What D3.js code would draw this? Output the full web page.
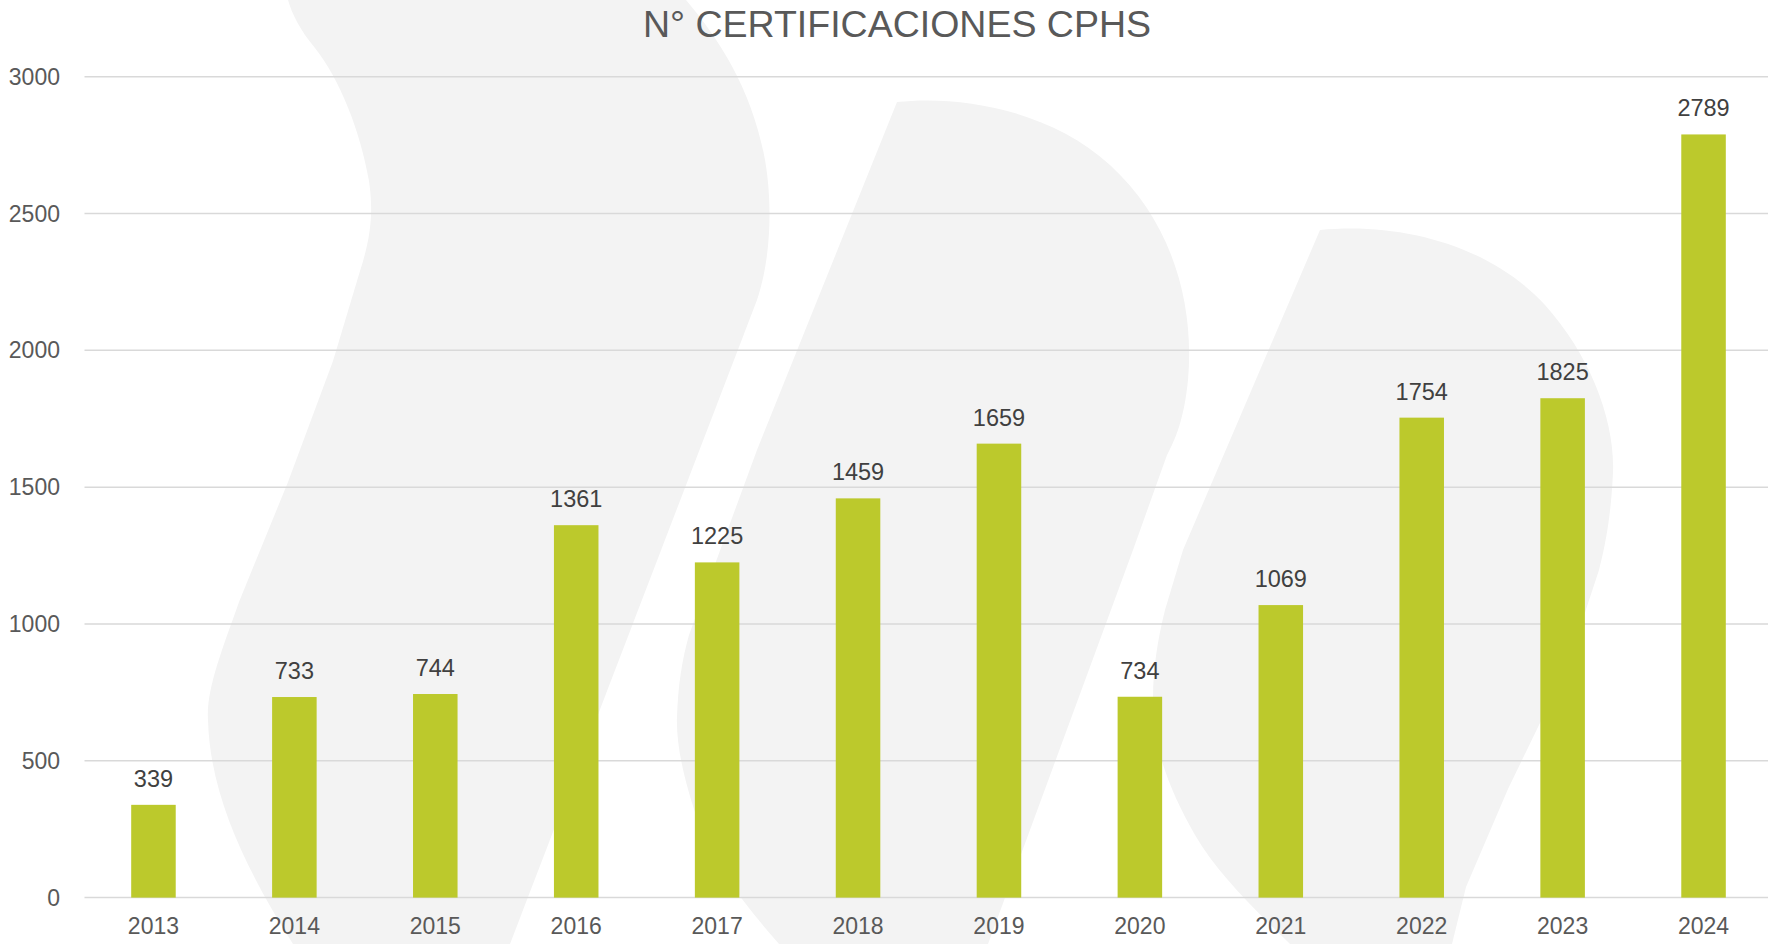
<!DOCTYPE html>
<html>
<head>
<meta charset="utf-8">
<script src="https://cdn.jsdelivr.net/npm/d3@7"></script>
<style>
  html, body { margin: 0; padding: 0; background: #fff; }
  svg { display: block; font-family: "Liberation Sans", Arial, sans-serif; }
</style>
</head>
<body>
<script>
// datos
var years = ["2013", "2014", "2015", "2016", "2017", "2018", "2019", "2020", "2021", "2022", "2023", "2024"];
var certificaciones = [339, 733, 744, 1361, 1225, 1459, 1659, 734, 1069, 1754, 1825, 2789];
var yTicks = [0, 500, 1000, 1500, 2000, 2500, 3000];
var titulo = "N° CERTIFICACIONES CPHS";

var width = 1768, height = 944;
// area del grafico
var plotLeft = 83, plotRight = 1774, plotTop = 76.7, plotBottom = 897.6;

var svg = d3.select("body").append("svg").attr("width", width).attr("height", height);

// marca de agua de fondo (logo)
var marca = [
  "M288,0 C292,14 300,30 315,48 C340,80 360,130 369,181 C374,215 370,240 360,271 L333,361 L288,482 L239,602 C222,650 206,690 208,720 C210,790 240,860 293,944 L510,944 L757,300 C772,255 772,200 765,160 C752,90 720,40 686,0 Z",
  "M897,102 C960,95 1050,110 1110,165 C1170,220 1195,300 1188,380 C1184,420 1175,440 1167,455 L1133,550 L988,944 L779,944 C740,900 712,860 698,821 C684,780 676,745 677,717 C678,685 682,660 689,635 L757,450 Z",
  "M1320,230 C1400,222 1490,245 1545,305 C1590,355 1615,420 1613,472 C1611,520 1604,550 1599,570 L1567,667 L1508,789 L1466,887 L1452,944 L1290,944 C1250,905 1215,870 1195,835 C1175,800 1160,765 1155,730 C1150,690 1155,650 1165,610 L1183,550 Z"
];
svg.selectAll(".marca").data(marca).enter().append("path")
    .attr("d", function (d) { return d; })
    .attr("fill", "#f3f3f3");

var x = d3.scaleBand().domain(years).range([plotLeft, plotRight]).paddingInner(0.684).paddingOuter(0.342);
var y = d3.scaleLinear().domain([0, 3000]).range([plotBottom, plotTop]);

// lineas horizontales
svg.selectAll(".grid").data(yTicks).enter().append("line")
    .attr("x1", plotLeft + 1.5).attr("x2", width)
    .attr("y1", function (d) { return y(d); }).attr("y2", function (d) { return y(d); })
    .attr("stroke", "#d9d9d9").attr("stroke-width", 1.5);

// etiquetas eje y
svg.selectAll(".ylab").data(yTicks).enter().append("text")
    .attr("x", 60).attr("y", function (d) { return y(d); }).attr("dy", "0.35em")
    .attr("text-anchor", "end").attr("font-size", 23).attr("fill", "#595959")
    .text(function (d) { return d; });

// barras
svg.selectAll(".bar").data(certificaciones).enter().append("rect")
    .attr("x", function (d, i) { return x(years[i]); })
    .attr("y", function (d) { return y(d); })
    .attr("width", x.bandwidth())
    .attr("height", function (d) { return plotBottom - y(d); })
    .attr("fill", "#bcc92c");

// valores
svg.selectAll(".val").data(certificaciones).enter().append("text")
    .attr("x", function (d, i) { return x(years[i]) + x.bandwidth() / 2; })
    .attr("y", function (d) { return y(d) - 18; })
    .attr("text-anchor", "middle").attr("font-size", 23.5).attr("fill", "#404040")
    .text(function (d) { return d; });

// eje x
svg.selectAll(".xlab").data(years).enter().append("text")
    .attr("x", function (d) { return x(d) + x.bandwidth() / 2; })
    .attr("y", 934)
    .attr("text-anchor", "middle").attr("font-size", 23).attr("fill", "#595959")
    .text(function (d) { return d; });

// titulo
svg.append("text").attr("x", 897).attr("y", 37).attr("text-anchor", "middle")
    .attr("font-size", 37.5).attr("fill", "#595959").text(titulo);
</script>
</body>
</html>
